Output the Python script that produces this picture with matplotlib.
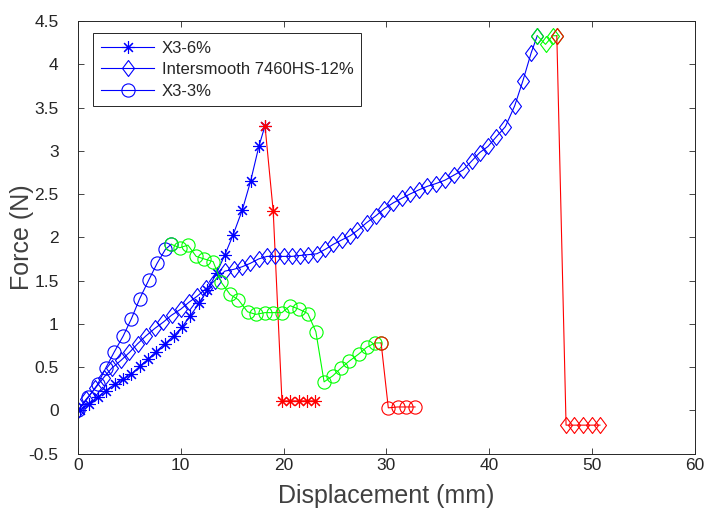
import matplotlib
matplotlib.use("Agg")
import matplotlib.pyplot as plt
from matplotlib.path import Path

plt.rcParams['font.family'] = ['Liberation Sans', 'DejaVu Sans']
plt.rcParams['axes.unicode_minus'] = False

# ---- data ----
# X3-6% (asterisks)
x36_blue = [0.2, 1.05, 1.9, 2.7, 3.56, 4.4, 5.2, 6.0, 6.8, 7.6, 8.45, 9.3, 10.1, 10.9,
            11.8, 12.6, 13.5, 14.3, 15.1, 16.0, 16.8, 17.6, 18.2]
y36_blue = [0.0, 0.08, 0.15, 0.23, 0.30, 0.36, 0.42, 0.51, 0.59, 0.68, 0.77, 0.86, 0.96, 1.09,
            1.24, 1.39, 1.59, 1.80, 2.03, 2.32, 2.65, 3.05, 3.29]
x36_red = [18.2, 19.0, 19.85, 20.65, 21.46, 22.3, 23.1]
y36_red = [3.29, 2.30, 0.11, 0.11, 0.11, 0.11, 0.11]

# Intersmooth 7460HS-12% (diamonds)
xis_blue = [0.0, 0.8, 1.7, 2.5, 3.3, 4.2, 5.0, 5.8, 6.6, 7.5, 8.3, 9.1, 10.0, 10.8, 11.6,
            12.5, 13.3, 14.3, 15.15, 15.97, 16.77, 17.57, 18.39, 19.19, 20.0, 20.8, 21.6,
            22.4, 23.24, 24.05, 24.85, 25.67, 26.5, 27.2, 28.1, 29.0, 29.8, 30.7, 31.5,
            32.3, 33.2, 34.0, 34.8, 35.7, 36.6, 37.5, 38.3, 39.1, 39.9, 40.7, 41.6, 42.5,
            43.3, 44.1, 44.7]
yis_blue = [0.0, 0.13, 0.26, 0.38, 0.49, 0.58, 0.67, 0.77, 0.86, 0.95, 1.02, 1.10, 1.17, 1.25,
            1.32, 1.41, 1.50, 1.61, 1.63, 1.66, 1.70, 1.75, 1.78, 1.78, 1.78, 1.78, 1.79,
            1.80, 1.81, 1.86, 1.92, 1.97, 2.02, 2.08, 2.17, 2.25, 2.33, 2.40, 2.45, 2.50,
            2.55, 2.59, 2.62, 2.66, 2.72, 2.78, 2.88, 2.98, 3.05, 3.16, 3.28, 3.52, 3.81,
            4.13, 4.33]
xis_green = [44.7, 45.5, 46.2, 46.6]
yis_green = [4.33, 4.23, 4.33, 4.33]
xis_red = [46.6, 47.5, 48.3, 49.1, 50.0, 50.8]
yis_red = [4.33, -0.17, -0.17, -0.17, -0.17, -0.17]

# X3-3% (circles)
x33_blue = [0.0, 1.0, 1.9, 2.7, 3.5, 4.4, 5.2, 6.0, 6.9, 7.7, 8.5, 9.07]
y33_blue = [0.0, 0.15, 0.30, 0.49, 0.67, 0.86, 1.06, 1.29, 1.51, 1.70, 1.86, 1.92]
x33_green = [9.07, 9.9, 10.7, 11.5, 12.3, 13.15, 13.95, 14.8, 15.6, 16.5, 17.3, 18.2, 18.97,
             19.85, 20.65, 21.5, 22.37, 23.15, 23.95, 24.8, 25.6, 26.4, 27.3, 28.1, 28.9, 29.5]
y33_green = [1.92, 1.88, 1.91, 1.78, 1.75, 1.72, 1.48, 1.34, 1.28, 1.14, 1.11, 1.13, 1.13,
             1.13, 1.21, 1.17, 1.12, 0.91, 0.33, 0.40, 0.49, 0.57, 0.65, 0.73, 0.78, 0.78]
x33_red = [29.5, 30.2, 31.1, 31.9, 32.8]
y33_red = [0.78, 0.03, 0.04, 0.04, 0.04]

labels = ['X3-6%', 'Intersmooth 7460HS-12%', 'X3-3%']
xticks = [0, 10, 20, 30, 40, 50, 60]
yticks = [-0.5, 0, 0.5, 1, 1.5, 2, 2.5, 3, 3.5, 4, 4.5]
ytick_labels = ['-0.5', '0', '0.5', '1', '1.5', '2', '2.5', '3', '3.5', '4', '4.5']

# ---- figure ----
fig = plt.figure(figsize=(7.04, 5.11), dpi=100)
ax = fig.add_axes([78 / 704, 57.3 / 511, 616.5 / 704, 432.7 / 511])

lw = 0.8
star = (8, 2, 0)
diamond = Path([(0, 1), (0.75, 0), (0, -1), (-0.75, 0), (0, 1)],
               [Path.MOVETO, Path.LINETO, Path.LINETO, Path.LINETO, Path.CLOSEPOLY])
kw_star = dict(marker=star, markersize=9, lw=lw, mew=0.8)
kw_dia = dict(marker=diamond, markersize=11.5, lw=lw, mew=0.8, mfc='none')
kw_circ = dict(marker='o', markersize=9.5, lw=lw, mew=0.8, mfc='none')

BLUE, GREEN, RED = (0, 0, 1), (0, 1, 0), (1, 0, 0)

l1, = ax.plot(x36_blue, y36_blue, color=BLUE, **kw_star)
ax.plot(x36_red, y36_red, color=RED, **kw_star)

l2, = ax.plot(xis_blue, yis_blue, color=BLUE, **kw_dia)
ax.plot(xis_green, yis_green, color=GREEN, **kw_dia)
ax.plot(xis_red, yis_red, color=RED, **kw_dia)

l3, = ax.plot(x33_blue, y33_blue, color=BLUE, **kw_circ)
ax.plot(x33_green, y33_green, color=GREEN, **kw_circ)
ax.plot(x33_red, y33_red, color=RED, **kw_circ)

ax.set_xlim(0, 60)
ax.set_ylim(-0.5, 4.5)
ax.set_xticks(xticks)
ax.set_xticklabels([str(v) for v in xticks])
ax.set_yticks(yticks)
ax.set_yticklabels(ytick_labels)

tc = '#262626'
ax.tick_params(direction='in', length=4, width=0.6, top=True, right=True,
               labelsize=12.5, colors=tc)
ax.tick_params(axis='x', pad=3)
ax.tick_params(axis='y', pad=14)
for s in ax.spines.values():
    s.set_color(tc)
    s.set_linewidth(0.7)

ax.set_xlabel('Displacement (mm)', fontsize=18, color='#404040', labelpad=8)
ax.set_ylabel('Force (N)', fontsize=18, color='#404040', labelpad=-4)

leg = ax.legend([l1, l2, l3], labels, loc='upper left',
                bbox_to_anchor=(15 / 616.5, (453.7 - 33) / 432.7),
                borderaxespad=0, fontsize=12, handlelength=3.2, handletextpad=0.45,
                labelspacing=0.38, borderpad=0.47, fancybox=False, framealpha=1)
leg.get_frame().set_edgecolor(tc)
leg.get_frame().set_linewidth(0.7)
for t in leg.get_texts():
    t.set_color(tc)

fig.savefig('out.png', dpi=100)
